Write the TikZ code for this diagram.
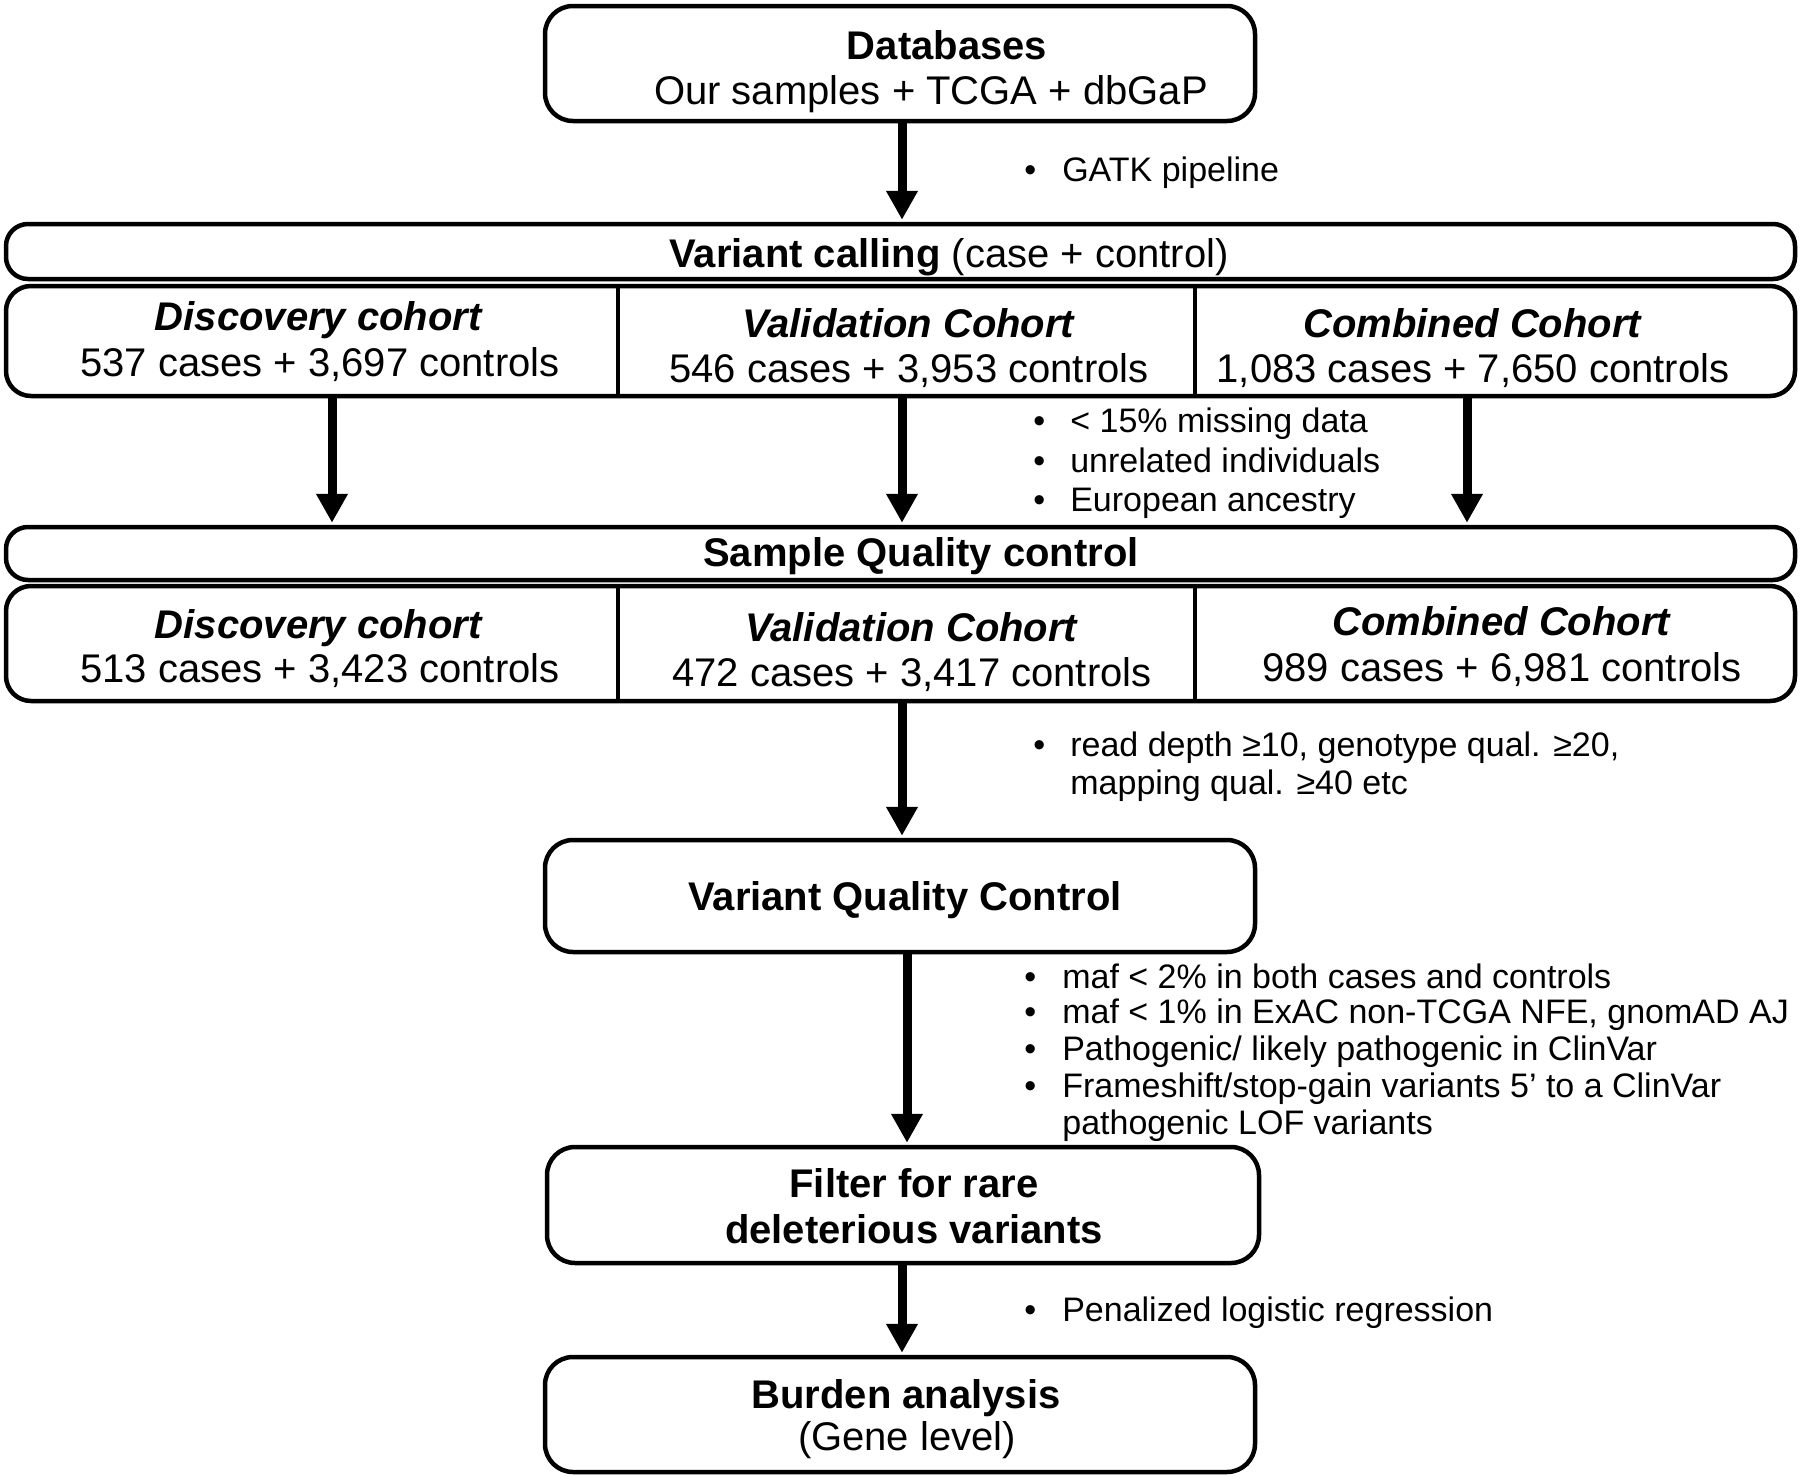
\documentclass[tikz,border=0pt]{standalone}
\usepackage{fontspec}
\setmainfont{Liberation Sans}
\usetikzlibrary{arrows.meta}
\begin{document}
\begin{tikzpicture}[x=0.5pt,y=-0.5pt,
  box/.style={draw, line width=2.25pt, rounded corners=14pt, inner sep=0pt},
  wide/.style={draw, line width=2.25pt, rounded corners=11pt, inner sep=0pt},
  arr/.style={line width=4.5pt, shorten >=1pt, -{Triangle[width=15pt,length=14.5pt]}},
  div/.style={line width=1.6pt},
  mtxt/.style={font=\fontsize{20}{24}\selectfont, anchor=base, inner sep=0pt},
  btxt/.style={font=\fontsize{17}{20}\selectfont, anchor=base west, inner sep=0pt},
  ]
\useasboundingbox (0,0) rectangle (1800,1478);

% boxes
\node[box, minimum width=355pt, minimum height=57.5pt] (db) at (900,63.5) {};
\node[wide, minimum width=894.5pt, minimum height=27.5pt] (hdr1) at (900.5,251.5) {};
\node[box, rounded corners=12.5pt, minimum width=894.5pt, minimum height=55pt] (row1) at (900.5,341) {};
\node[wide, minimum width=894.5pt, minimum height=26.5pt] (hdr2) at (900.5,553.5) {};
\node[box, rounded corners=12.5pt, minimum width=894.5pt, minimum height=57.5pt] (row2) at (900.5,643.5) {};
\node[box, minimum width=355pt, minimum height=56pt] (vqc) at (900,896) {};
\node[box, minimum width=356pt, minimum height=58pt] (filt) at (903,1205) {};
\node[box, minimum width=355pt, minimum height=57.5pt] (burd) at (900,1414.5) {};

% column coordinates
\coordinate (d1) at (618,0);
\coordinate (d2) at (1195,0);
\coordinate (cD) at (332,0);
\coordinate (cV) at (902,0);
\coordinate (cC) at (1467,0);
\coordinate (cV2) at (907,0);

% dividers
\draw[div] (row1.north -| d1) -- (row1.south -| d1);
\draw[div] (row1.north -| d2) -- (row1.south -| d2);
\draw[div] (row2.north -| d1) -- (row2.south -| d1);
\draw[div] (row2.north -| d2) -- (row2.south -| d2);

% texts in boxes
\node[mtxt] (dbt1) at (947,59) {\textbf{Databases}};
\node[mtxt] (dbt2) at (931,104) {Our samples + TCGA + dbGaP};
\node[mtxt] (h1t) at (949,267) {\textbf{Variant calling} (case + control)};
\node[mtxt] (r1a1) at (319,330) {\textbf{\textit{Discovery cohort}}};
\node[mtxt] (r1a2) at (320,376) {537 cases + 3,697 controls};
\node[mtxt] (r1b1) at (909,337) {\textbf{\textit{Validation Cohort}}};
\node[mtxt] (r1b2) at (909,382) {546 cases + 3,953 controls};
\node[mtxt] (r1c1) at (1473,337) {\textbf{\textit{Combined Cohort}}};
\node[mtxt] (r1c2) at (1473,382) {1,083 cases + 7,650 controls};
\node[mtxt] (h2t) at (921,566) {\textbf{Sample Quality control}};
\node[mtxt] (r2a1) at (319,638) {\textbf{\textit{Discovery cohort}}};
\node[mtxt] (r2a2) at (320,682) {513 cases + 3,423 controls};
\node[mtxt] (r2b1) at (912,641) {\textbf{\textit{Validation Cohort}}};
\node[mtxt] (r2b2) at (912,686) {472 cases + 3,417 controls};
\node[mtxt] (r2c1) at (1502,635) {\textbf{\textit{Combined Cohort}}};
\node[mtxt] (r2c2) at (1502,681) {989 cases + 6,981 controls};
\node[mtxt] (vqct) at (905,910) {\textbf{Variant Quality Control}};
\node[mtxt] (ft1) at (914,1197) {\textbf{Filter for rare}};
\node[mtxt] (ft2) at (914,1243) {\textbf{deleterious variants}};
\node[mtxt] (bt1) at (906,1408) {\textbf{Burden analysis}};
\node[mtxt] (bt2) at (907,1450) {(Gene level)};

% arrows
\draw[arr] (db.south -| cV) -- (hdr1.north -| cV);
\draw[arr] (row1.south -| cD) -- (hdr2.north -| cD);
\draw[arr] (row1.south -| cV) -- (hdr2.north -| cV);
\draw[arr] (row1.south -| cC) -- (hdr2.north -| cC);
\draw[arr] (row2.south -| cV) -- (vqc.north -| cV);
\draw[arr] (vqc.south -| cV2) -- (filt.north -| cV2);
\draw[arr] (filt.south -| cV) -- (burd.north -| cV);

% bullet notes
\node[btxt] (n1) at (1024,181) {\textbullet\hspace{13pt}GATK pipeline};
\node[btxt] (n2) at (1033,432) {\textbullet\hspace{12.5pt}< 15\% missing data};
\node[btxt] (n3) at (1033,472) {\textbullet\hspace{12.5pt}unrelated individuals};
\node[btxt] (n4) at (1033,511) {\textbullet\hspace{12.5pt}European ancestry};
\node[btxt] (n5) at (1033,756) {\textbullet\hspace{12.5pt}read depth ≥10, genotype qual. ≥20,};
\node[btxt] (n6) at (1070,794) {mapping qual. ≥40 etc};
\node[btxt] (n7) at (1024,988) {\textbullet\hspace{13pt}maf < 2\% in both cases and controls};
\node[btxt] (n8) at (1024,1023) {\textbullet\hspace{13pt}maf < 1\% in ExAC non-TCGA NFE, gnomAD AJ};
\node[btxt] (n9) at (1024,1060) {\textbullet\hspace{13pt}Pathogenic/ likely pathogenic in ClinVar};
\node[btxt] (n10) at (1024,1097) {\textbullet\hspace{13pt}Frameshift/stop-gain variants 5’ to a ClinVar};
\node[btxt] (n11) at (1062,1134) {pathogenic LOF variants};
\node[btxt] (n12) at (1024,1321) {\textbullet\hspace{13pt}Penalized logistic regression};
\end{tikzpicture}
\end{document}
